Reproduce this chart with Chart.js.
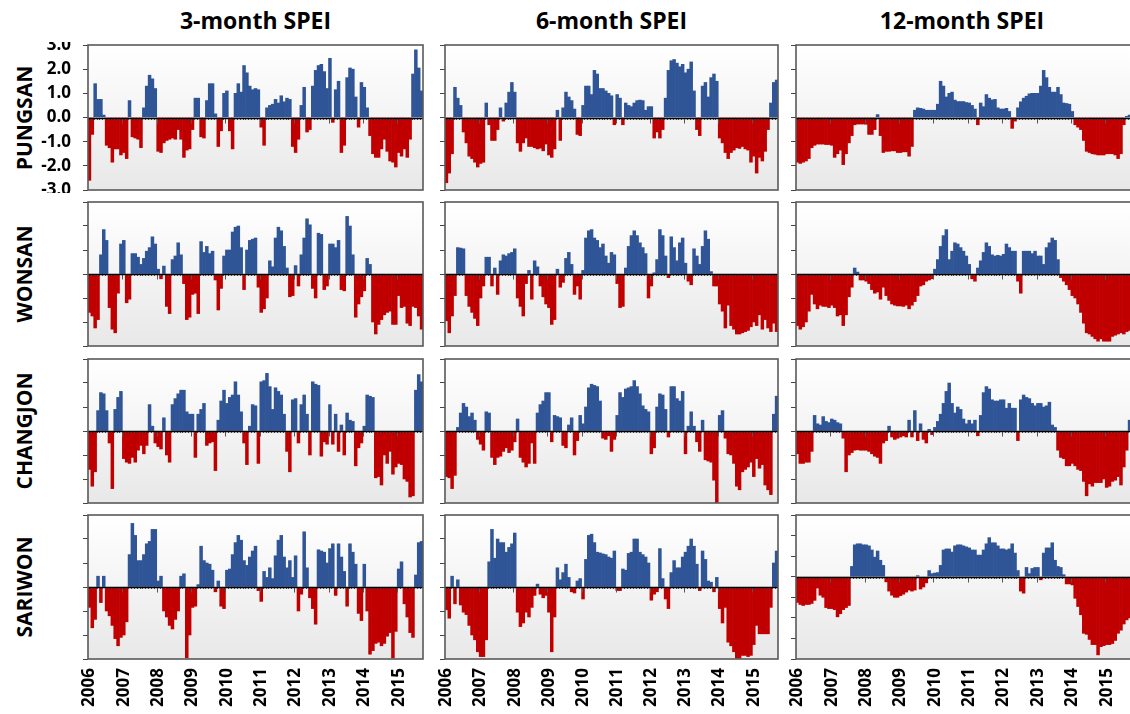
<!DOCTYPE html>
<html>
<head>
<meta charset="utf-8">
<script src="https://cdn.jsdelivr.net/npm/chart.js@4.4.1/dist/chart.umd.min.js"></script>
<style>
  html, body { margin: 0; padding: 0; background: #fff; overflow: hidden; }
  #page { position: relative; width: 1130px; height: 714px; }
  #page canvas { position: absolute; }
  .colTitle {
    position: absolute; top: 4px; width: 340px; text-align: center;
    font: bold 23px 'Open Sans', sans-serif; color: #000;
  }
  .rowTitle {
    position: absolute; width: 170px; height: 30px; line-height: 30px; text-align: center;
    font: bold 21px 'Open Sans', sans-serif; color: #000; transform: rotate(-90deg);
  }
</style>
</head>
<body>
<div id="page"></div>
<script>
// Monthly SPEI, Jan 2006 – Sep 2015, four stations x three time scales
const years = ['2006', '2007', '2008', '2009', '2010', '2011', '2012', '2013', '2014', '2015'];
const N_MONTHS = 117;
const months = [];
years.forEach(y => {
  for (let m = 1; m <= 12; m++) months.push(y + '-' + String(m).padStart(2, '0'));
});
months.length = N_MONTHS;

const stations    = ['PUNGSAN', 'WONSAN', 'CHANGJON', 'SARIWON'];
const speiScales  = ['3-month SPEI', '6-month SPEI', '12-month SPEI'];
const yTicks      = [3, 2, 1, 0, -1, -2, -3];

// ── PUNGSAN ──────────────────────────────────────────────
const pungsan3 = [
  -2.6, -0.7, 1.4, 0.75, 0.75, 0.1, -1.15, -1.25, -1.85, -1.3, -1.3, -1.55,
  -1.45, -1.7, 0.7, -0.8, -0.85, -0.9, -1.25, 0.4, 1.3, 1.75, 1.6, 1.2,
  -1.4, -1.45, -1.05, -0.95, -0.9, -0.85, -0.9, -0.5, -0.9, -1.65, -1.35, -1.3,
  -0.5, 0.8, 0.8, -0.8, -0.85, 0.7, 1.4, 1.4, 0.15, -1.2, -0.55, 1.0,
  1.1, -0.55, -1.3, 1.0, 1.4, 1.05, 2.15, 1.85, 1.3, 1.15, 1.2, 1.15,
  -0.4, -1.15, 0.4, 0.5, 0.55, 0.75, 0.6, 0.9, 0.65, 0.8, 0.75, -1.2,
  -1.45, -0.9, 0.5, 1.25, -0.6, -0.5, 1.3, 1.95, 2.15, 2.2, 1.9, 1.2,
  2.45, -0.2, 1.15, 1.5, -1.45, -1.15, 1.65, 2.05, 2.0, 0.85, -0.4, 1.45,
  1.25, 0.4, -0.75, -1.5, -1.65, -1.65, -1.3, -0.9, -1.4, -1.8, -1.85, -2.05,
  -1.45, -1.6, -1.3, -1.65, -0.9, 1.8, 2.8, 2.05, 1.1
];
const pungsan6 = [
  -2.7, -2.3, -1.5, 1.25, 0.8, 0.5, -0.6, -1.05, -1.6, -1.7, -1.85, -2.05,
  -1.9, -1.85, 0.6, -0.3, -0.95, -0.95, -0.5, 0.4, -0.15, 0.6, 1.05, 1.45,
  1.05, -1.05, -1.4, -1.05, -0.85, -1.2, -1.2, -1.25, -1.3, -1.27, -1.38, -1.1,
  -1.55, -1.65, -1.3, 0.3, -0.95, 0.4, 1.05, 0.85, 0.7, 0.35, -0.7, -0.75,
  0.5, 1.3, 1.3, 0.95, 1.95, 1.8, 1.2, 1.2, 1.1, 1.0, 0.9, -0.3,
  0.95, 0.8, -0.3, 0.6, 0.5, 0.45, 0.6, 0.7, 0.72, 0.7, 0.3, 0.45,
  0.45, -0.85, -0.6, -0.85, -0.5, 0.8, 1.95, 2.35, 2.4, 2.25, 2.1, 2.2,
  1.85, 2.0, 2.3, 1.1, -0.5, -0.75, 1.3, 1.45, 0.85, 1.65, 1.8, 1.5,
  -0.85, -1.05, -1.45, -1.7, -1.45, -1.35, -1.25, -1.28, -1.2, -1.3, -1.35, -1.85,
  -1.6, -2.3, -1.65, -1.8, -1.4, -0.5, 0.6, 1.45, 1.55
];
const pungsan12 = [
  -1.85, -1.9, -1.85, -1.8, -1.7, -1.25, -1.15, -1.1, -1.1, -1.1, -1.12, -1.12,
  -1.15, -1.65, -1.5, -1.35, -1.95, -1.5, -1.05, -0.75, -0.3, -0.27, -0.27, -0.27,
  -0.28, -0.7, -0.7, -0.5, 0.12, -0.75, -1.45, -1.4, -1.4, -1.38, -1.38, -1.45,
  -1.45, -1.42, -1.42, -1.6, -1.2, 0.3, 0.4, 0.38, 0.35, 0.3, 0.3, 0.3,
  0.3, 0.55, 1.5, 1.3, 0.85, 1.0, 1.05, 0.72, 0.66, 0.66, 0.66, 0.62,
  0.6, 0.5, 0.35, -0.3, 0.6, 0.45, 0.95, 0.8, 0.73, 0.75, 0.4, 0.35,
  0.35, 0.38, 0.25, -0.45, -0.15, 0.4, 0.65, 0.8, 0.88, 0.98, 1.0, 1.0,
  1.0, 1.3, 1.95, 1.65, 1.25, 1.05, 1.05, 1.25, 0.95, 0.6, 0.58, 0.55,
  0.25, -0.3, -0.4, -0.5, -0.95, -1.4, -1.45, -1.5, -1.52, -1.55, -1.55, -1.55,
  -1.5, -1.5, -1.5, -1.55, -1.7, -1.5, -0.3, 0.05, 0.1
];

// ── WONSAN ───────────────────────────────────────────────
const wonsan3 = [
  -1.6, -1.75, -2.25, -1.9, 0.8, 1.85, 1.4, -1.4, -2.3, -2.45, -0.8, 1.25,
  1.4, -1.2, -1.05, 0.85, 0.85, 0.7, 0.4, 0.65, 0.95, 1.1, 1.55, 1.25,
  0.2, -0.2, 0.33, -1.35, -1.65, 0.6, 0.75, 1.3, 0.8, -0.4, -1.9, -1.8,
  -0.85, -0.8, -1.65, 1.35, 0.9, 1.15, 0.85, 0.95, -0.25, -1.5, -0.6, 0.75,
  1.0, 1.0, 1.75, 1.95, 2.0, 1.1, -0.65, 1.0, 1.4, 1.45, 1.5, -0.55,
  -1.6, -1.45, -1.0, 0.55, 0.3, 1.5, 1.95, 1.8, 1.15, 0.25, -0.95, -0.9,
  0.35, -0.5, 0.8, 1.5, 2.3, 2.05, -0.6, -1.0, 1.7, 1.65, -0.65, -0.5,
  1.25, 1.25, 1.1, 1.4, -0.65, -0.7, 2.4, 2.0, 0.8, -1.8, -1.25, -0.95,
  -0.7, 0.65, 0.4, -2.0, -2.5, -2.1, -1.9, -1.7, -1.6, -1.55, -2.1, -2.1,
  -0.9, -1.4, -1.35, -2.05, -2.15, -1.35, -1.4, -1.75, -2.3
];
const wonsan6 = [
  -1.95, -2.45, -1.75, -0.9, 1.1, 1.08, 1.05, -0.9, -1.35, -1.6, -1.85, -2.15,
  -1.0, -0.5, 0.7, 0.7, -0.5, 0.25, -0.85, 0.55, 0.8, 0.75, 0.85, 0.9,
  1.05, -1.0, -1.35, -1.75, -0.4, 0.15, -1.05, 0.55, 0.3, -0.5, -0.95, -1.25,
  -1.4, -2.1, -1.9, 0.2, -0.55, -0.35, 0.65, 0.9, 0.4, -0.85, -0.5, -1.05,
  0.15, 1.5, 1.8, 1.85, 1.5, 1.4, 1.1, 1.25, 0.75, 0.45, 0.9, 0.8,
  -0.4, -1.4, -1.35, 0.25, 1.15, 1.6, 1.8, 1.6, 1.3, 1.1, 0.85, -1.0,
  -0.5, 0.05, 0.6, 1.85, 1.6, 0.75, -0.15, 1.55, 1.1, 0.55, 1.3, 1.5,
  0.45, -0.3, -0.45, 1.05, 0.75, 0.4, 1.15, 1.8, 1.45, 0.1, -0.5, -0.5,
  -1.25, -1.55, -2.25, -1.3, -2.15, -2.3, -2.5, -2.5, -2.45, -2.4, -2.35, -2.2,
  -2.0, -2.15, -1.7, -2.3, -1.9, -2.25, -2.4, -2.05, -2.4
];
const wonsan12 = [
  -2.15, -2.3, -2.2, -2.0, -1.55, -0.85, -1.25, -1.45, -1.3, -1.35, -1.35, -1.4,
  -1.3, -1.4, -1.75, -1.7, -2.15, -1.7, -0.95, -0.55, 0.25, 0.08, -0.25, -0.25,
  -0.3, -0.4, -0.65, -0.8, -0.75, -1.05, -0.55, -0.9, -1.1, -1.25, -1.3, -1.33,
  -1.33, -1.35, -1.3, -1.45, -1.3, -1.15, -0.9, -0.5, -0.45, -0.3, -0.25, -0.2,
  0.2, 0.6, 1.15, 1.6, 1.85, 0.6, 0.95, 1.3, 1.25, 1.1, 0.95, 0.75,
  0.4, -0.2, -0.3, 0.25, 0.55, 0.9, 1.3, 1.15, 0.8, 0.75, 0.78, 0.75,
  0.82, 1.25, 1.1, 0.95, 0.95, -0.3, -0.8, 0.95, 0.95, 0.95, 0.85, 0.95,
  0.75, 0.75, 0.4, 1.1, 1.3, 1.5, 1.4, 0.6, -0.15, -0.3, -0.45, -0.65,
  -0.9, -1.0, -1.25, -1.6, -2.05, -2.45, -2.5, -2.6, -2.7, -2.8, -2.7, -2.8,
  -2.8, -2.8, -2.6, -2.55, -2.5, -2.45, -2.5, -2.4, -2.35
];

// ── CHANGJON ─────────────────────────────────────────────
const changjon3 = [
  -1.6, -2.3, -1.7, 0.85, 1.6, 1.55, 0.85, -0.5, -2.4, 0.9, 1.4, 1.65,
  -1.15, -1.3, -1.35, -1.1, -1.3, -0.8, -0.6, -0.95, -0.6, 1.1, 0.2, -0.5,
  -0.65, -0.75, 0.55, -1.0, -1.3, 1.1, 1.35, 1.55, 1.7, 1.7, 0.8, 0.7,
  0.7, -1.1, 0.7, 0.9, 1.15, -0.6, -0.5, -0.45, -1.65, 0.45, 1.25, 1.7,
  1.15, 1.4, 1.5, 2.05, 1.5, 0.8, -0.5, -1.4, 0.2, 1.1, 1.05, -1.35,
  2.05, 2.1, 2.4, 1.85, 0.9, 1.8, 1.65, 1.5, 0.7, -0.85, -1.7, 1.3,
  1.35, -0.5, 1.1, 1.5, 0.7, -1.0, 2.05, 1.95, 1.9, -1.05, -0.45, -0.55,
  1.1, -0.55, 0.7, -0.85, 0.25, -1.0, 0.75, 0.45, 0.4, -1.45, -0.7, -0.5,
  0.2, 1.5, 1.45, 1.4, -1.95, -1.9, -2.25, -1.0, -1.35, -0.85, -1.8, -1.5,
  -1.35, -1.4, -2.0, -2.1, -2.75, -2.7, 1.7, 2.35, 2.05
];
const changjon6 = [
  -1.9, -1.95, -2.4, -1.85, 0.15, 0.75, 1.15, 1.0, 0.6, 0.75, 0.45, -0.35,
  -0.55, -0.8, 0.8, 0.75, -1.1, -1.4, -1.1, -1.05, -0.85, -0.7, -0.9, -0.8,
  -0.45, 0.5, -1.1, -1.3, -1.5, -1.35, -0.5, -1.35, 0.75, 1.1, 1.25, 1.6,
  1.6, -0.45, 0.65, 0.6, 0.55, -0.6, -0.7, 0.25, 0.55, -1.0, -0.4, 0.65,
  0.3, 1.0, 1.8, 1.95, 1.9, 1.85, 1.25, -0.3, -0.35, -0.2, -0.85, -0.35,
  0.65, 1.6, 1.4, 1.75, 1.8, 1.85, 2.1, 1.85, 1.55, 1.05, 0.9, 0.8,
  -0.95, -0.7, 1.0, 1.55, 1.5, 0.9, -0.25, 1.85, 1.85, 1.35, 1.25, 1.65,
  -0.95, 0.2, 0.8, 0.2, -0.45, -0.85, 0.45, -1.2, -1.25, -1.3, -2.05, -3.0,
  0.65, 0.85, -0.3, -0.95, -1.0, -1.35, -2.3, -2.45, -1.7, -1.6, -1.5, -1.3,
  -1.9, -1.15, -1.55, -1.4, -2.25, -2.45, -2.65, 0.7, 1.45
];
const changjon12 = [
  -0.95, -1.35, -1.35, -1.3, -1.3, -0.85, 0.65, 0.3, 0.25, 0.6, 0.4, 0.35,
  0.5, 0.45, 0.35, 0.3, -0.3, -1.7, -1.0, -0.9, -0.8, -0.78, -0.8, -0.8,
  -0.8, -0.85, -0.95, -1.05, -1.1, -1.35, -0.5, -0.4, 0.2, -0.25, -0.35, -0.3,
  -0.25, -0.2, -0.25, 0.45, -0.25, 0.85, -0.4, 0.3, -0.35, -0.5, 0.07, -0.15,
  0.15, 0.4, 0.7, 1.15, 1.65, 2.0, 1.15, 0.75, 1.0, 0.9, 0.5, 0.3,
  0.45, 0.3, 0.45, -0.2, 0.65, 1.6, 1.85, 1.75, 1.3, 1.25, 1.25, 1.3,
  1.3, 0.95, 1.15, 0.95, 0.95, -0.4, 1.3, 1.5, 1.4, 1.35, 1.15, 1.05,
  1.15, 1.15, 1.0, 1.05, 1.2, 0.25, 0.15, -0.8, -1.1, -1.15, -1.45, -1.45,
  -1.35, -1.45, -1.6, -1.65, -2.1, -2.7, -2.2, -2.3, -2.15, -2.15, -2.15, -2.0,
  -2.35, -2.3, -2.1, -2.05, -1.9, -2.25, -1.5, -0.8, 0.45
];

// ── SARIWON ──────────────────────────────────────────────
const sariwon3 = [
  -0.85, -1.7, -1.35, 0.45, -0.65, 0.45, -1.0, -1.2, -1.6, -2.15, -2.45, -2.1,
  -2.0, -1.45, 1.35, 2.65, 2.15, 1.1, 1.1, 1.35, 1.8, 1.9, 2.4, 2.4,
  0.25, 0.45, -1.0, -1.25, -1.6, -1.75, -1.35, -1.0, 0.45, 0.55, -2.95, -2.0,
  -0.85, -0.8, 0.1, 1.7, 1.1, 1.0, 0.95, 0.7, -0.2, 0.25, -0.8, -0.9,
  0.7, 0.75, 1.35, 1.85, 2.15, 1.95, 1.1, 0.9, 1.25, 1.5, 1.7, -0.15,
  -0.6, 0.65, 0.4, 0.8, 0.35, 1.3, 1.95, 2.15, 1.25, 0.8, 1.1, 0.4,
  1.3, -1.0, -0.3, 2.3, 0.8, -0.45, -0.9, -1.55, 1.55, 1.5, 1.45, 1.0,
  1.6, 1.8, -0.35, 1.8, 1.25, 0.65, -0.8, 1.8, 1.45, 0.95, -1.1, -1.4,
  0.95, -1.0, -2.8, -2.65, -2.35, -2.3, -2.45, -2.35, -2.05, -1.9, -2.95, -1.85,
  0.75, 1.05, -0.7, -1.25, -1.9, -2.1, 0.5, 1.85, 1.9
];
const sariwon6 = [
  -0.95, -1.3, 0.45, -0.7, 0.3, -0.75, -1.05, -1.15, -1.6, -2.0, -2.2, -2.7,
  -2.9, -2.9, -2.2, 1.05, 2.4, 1.2, 2.0, 1.85, 1.85, 1.45, 1.65, 1.8,
  2.25, -1.05, -1.65, -1.5, -1.05, -1.25, -0.85, -0.35, 0.12, -0.3, -0.45, -0.35,
  -1.05, -2.7, -1.25, 0.8, 0.3, 0.6, 0.95, 0.4, -0.2, -0.25, 0.25, 0.35,
  -0.5, 1.15, 2.15, 2.2, 1.85, 1.45, 1.42, 1.38, 1.35, 1.25, 1.2, 1.5,
  -0.15, -0.15, 0.75, 0.7, 1.4, 1.45, 2.0, 2.0, 1.45, 1.35, 1.25, 1.0,
  -0.55, -0.3, -0.2, 1.6, 0.35, -0.5, -0.9, 0.6, 1.1, 0.8, 0.8, 1.25,
  1.45, 1.7, 2.0, 1.7, 0.95, -0.15, 1.5, 1.15, 0.25, 0.2, -0.2, 0.4,
  -0.9, -1.5, -0.85, -2.3, -2.45, -2.7, -2.97, -2.97, -2.85, -2.85, -2.9, -2.85,
  -2.4, -1.6, -1.95, -1.95, -1.95, -1.95, -0.85, 1.0, 1.5
];
const sariwon12 = [
  -1.25, -1.35, -1.4, -1.35, -1.35, -1.3, -1.15, -0.55, -0.9, -1.0, -1.5, -1.55,
  -1.55, -1.6, -1.95, -1.8, -1.6, -1.5, -1.4, 0.5, 1.55, 1.6, 1.6, 1.55,
  1.55, 1.5, 1.3, 0.95, 1.25, 0.8, 0.55, -0.25, -0.7, -0.9, -1.0, -1.0,
  -0.92, -0.85, -0.75, -0.65, -0.7, -0.65, 0.05, -0.6, -0.5, -0.3, 0.3, 0.15,
  0.18, 0.2, 0.55, 1.3, 1.35, 1.35, 1.2, 1.5, 1.55, 1.55, 1.5, 1.45,
  1.4, 1.3, 1.3, 1.05, 1.05, 1.3, 1.6, 1.9, 1.65, 1.65, 1.5, 1.35,
  1.35, 1.3, 1.35, 1.6, 1.15, 0.3, -0.7, -0.8, 0.45, 0.15, 0.4, 0.45,
  0.45, -0.15, 1.15, 1.4, 1.4, 1.65, 0.8, 0.5, 0.45, 0.1, -0.35, -0.35,
  -0.4, -1.05, -1.45, -1.85, -2.75, -2.8, -3.05, -3.3, -3.3, -3.8, -3.4, -3.35,
  -3.3, -3.3, -3.25, -3.1, -2.75, -2.6, -2.3, -2.1, -2.0
];

const series = [
  [pungsan3,  pungsan6,  pungsan12],
  [wonsan3,   wonsan6,   wonsan12],
  [changjon3, changjon6, changjon12],
  [sariwon3,  sariwon6,  sariwon12],
];

// ── LAYOUT ───────────────────────────────────────────────
const COLS = [[88, 423], [445, 778], [796, 1131]];
const ROWS = [[45, 190], [202, 346], [359, 503], [515, 659]];
const AXIS_W = 60;
const PAD = 3;
const XLAB_H = 55;

const BLUE = '#2F5597';
const RED  = '#C00000';
const FONT = "'Open Sans', sans-serif";

Chart.defaults.font.family = FONT;
Chart.defaults.color = '#000';

// Background gradient, zero line, year ticks and frame of each panel
const panelDeco = {
  id: 'panelDeco',
  beforeDraw(chart) {
    const { ctx, chartArea: a } = chart;
    const g = ctx.createLinearGradient(0, a.top, 0, a.bottom);
    g.addColorStop(0, '#ffffff');
    g.addColorStop(1, '#e8e8e8');
    ctx.save();
    ctx.fillStyle = g;
    ctx.fillRect(a.left, a.top, a.right - a.left, a.bottom - a.top);
    ctx.restore();
  },
  afterDatasetsDraw(chart) {
    const { ctx, chartArea: a, scales } = chart;
    const y0 = Math.round(scales.y.getPixelForValue(0)) + 0.5;
    const n = chart.data.labels.length;
    const slot = (a.right - a.left) / n;
    ctx.save();
    // month minor ticks, longer at each January
    ctx.strokeStyle = '#555';
    ctx.lineWidth = 1;
    ctx.beginPath();
    for (let i = 1; i < n; i++) {
      const x = Math.round(a.left + i * slot) + 0.5;
      const len = i % 12 === 0 ? 5 : 1.5;
      ctx.moveTo(x, y0);
      ctx.lineTo(x, y0 + len);
    }
    ctx.stroke();
    // zero line
    ctx.strokeStyle = '#000';
    ctx.lineWidth = 1.5;
    ctx.beginPath();
    ctx.moveTo(a.left, y0);
    ctx.lineTo(a.right, y0);
    ctx.stroke();
    // frame
    ctx.strokeStyle = '#595959';
    ctx.lineWidth = 1.6;
    ctx.strokeRect(a.left, a.top, a.right - a.left, a.bottom - a.top);
    ctx.restore();
  },
};

const page = document.getElementById('page');

speiScales.forEach((t, c) => {
  const d = document.createElement('div');
  d.className = 'colTitle';
  d.textContent = t;
  d.style.left = ((COLS[c][0] + Math.min(COLS[c][1], 1128)) / 2 - 170) + 'px';
  page.appendChild(d);
});

stations.forEach((s, r) => {
  const d = document.createElement('div');
  d.className = 'rowTitle';
  d.textContent = s;
  d.style.left = (25 - 85) + 'px';
  d.style.top = ((ROWS[r][0] + ROWS[r][1]) / 2 - 15) + 'px';
  page.appendChild(d);
});

series.forEach((row, r) => {
  row.forEach((values, c) => {
    const isBottom = r === ROWS.length - 1;
    const [x0, x1] = COLS[c];
    const [y0, y1] = ROWS[r];
    const cv = document.createElement('canvas');
    cv.width  = x1 - x0 + AXIS_W + PAD;
    cv.height = y1 - y0 + PAD + (isBottom ? XLAB_H : PAD);
    cv.style.left = (x0 - AXIS_W) + 'px';
    cv.style.top  = (y0 - PAD) + 'px';
    page.appendChild(cv);

    const yMin = (r === 3 && c === 2) ? -4 : -3;

    new Chart(cv, {
      type: 'bar',
      data: {
        labels: months,
        datasets: [{
          data: values,
          backgroundColor: values.map(v => v >= 0 ? BLUE : RED),
          borderWidth: 0,
          barPercentage: 1,
          categoryPercentage: 1,
        }],
      },
      options: {
        responsive: false,
        animation: false,
        devicePixelRatio: 1,
        layout: { padding: { top: PAD, right: PAD, bottom: isBottom ? 0 : PAD, left: 0 } },
        plugins: { legend: { display: false }, tooltip: { enabled: false } },
        scales: {
          x: {
            display: isBottom,
            grid: { display: false, drawTicks: false },
            border: { display: false },
            ticks: {
              autoSkip: false,
              minRotation: 90,
              maxRotation: 90,
              padding: 9,
              font: { size: 17, weight: 'bold' },
              callback: (v, i) => i % 12 === 0 ? years[i / 12] : '',
            },
            afterFit: s => {
              if (!isBottom) return;
              s.height = XLAB_H;
              s.paddingLeft = 0;
              s.paddingRight = 0;
            },
          },
          y: {
            min: yMin,
            max: 3,
            ticks: {
              stepSize: 1,
              autoSkip: false,
              display: r === 0 && c === 0,
              padding: 12,
              font: { size: 17, weight: 'bold' },
              callback: v => yTicks.includes(v) ? v.toFixed(1) : '',
            },
            grid: { drawOnChartArea: false, drawTicks: true, tickLength: 5, color: '#444' },
            border: { display: false },
            afterFit: s => {
              s.width = AXIS_W;
              s.paddingTop = 0;
              s.paddingBottom = 0;
            },
          },
        },
      },
      plugins: [panelDeco],
    });
  });
});
</script>
</body>
</html>
